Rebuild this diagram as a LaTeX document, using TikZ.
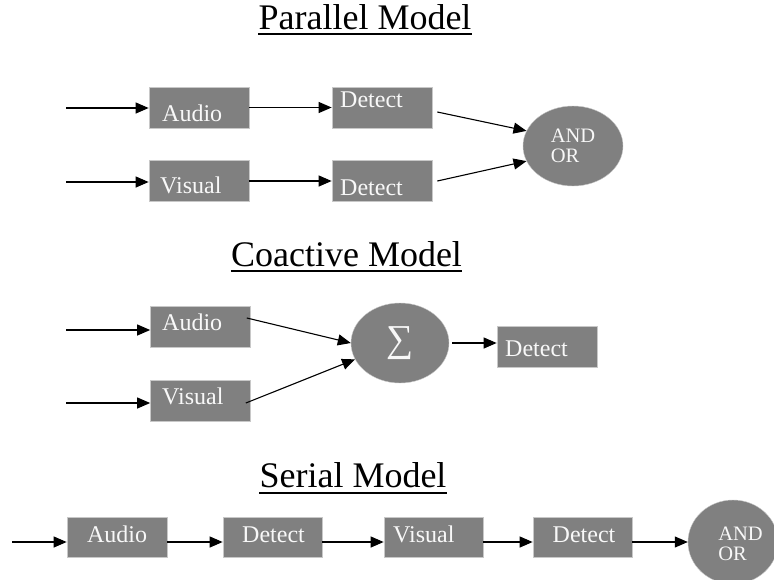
\documentclass[tikz,border=0pt]{standalone}
\usepackage{fontspec}
\setmainfont{Liberation Serif}
\usetikzlibrary{arrows.meta,shapes.geometric,calc}
\definecolor{boxgray}{HTML}{808080}
\definecolor{boxedge}{HTML}{C8C8C8}
\definecolor{txtwhite}{HTML}{F8F8F8}
\begin{document}
\begin{tikzpicture}[x=1pt,y=-1pt,
  blk/.style={rectangle,fill=boxgray,draw=boxedge,line width=0.7pt,inner sep=0pt,minimum width=100pt,minimum height=41pt},
  oval/.style={ellipse,fill=boxgray,draw=boxedge,line width=0.4pt,inner sep=0pt,minimum width=100pt,minimum height=80pt,text=txtwhite,align=left,font=\fontsize{20.5}{20.5}\selectfont},
  ovtxt/.style={inner sep=0pt,text=txtwhite,align=left,font=\fontsize{20.5}{20.5}\selectfont},
  lbl/.style={anchor=base west,inner sep=0pt,text=txtwhite,font=\fontsize{24}{24}\selectfont},
  lblc/.style={lbl,anchor=base},
  ttl/.style={anchor=base,inner sep=0pt,font=\fontsize{36}{40}\selectfont},
  uline/.style={line width=1.8pt},
  arr/.style={line width=1.1pt,-{Triangle[length=13pt,width=11pt]}},
]
\clip (0,0) rectangle (774,579);
\useasboundingbox (0,0) rectangle (774,579);

% ---------- Parallel Model ----------
\node[ttl] (t1) at (365,29) {Parallel Model};
\draw[uline] ([yshift=-5pt]t1.base west) -- ([yshift=-5pt]t1.base east);

\node[blk] (pa) at (199,107.5) {};
\node[blk] (pd1) at (382,107.5) {};
\node[blk] (pv) at (199,181) {};
\node[blk] (pd2) at (382,181) {};
\node[oval] (pand) at (573,146) {AND\\OR};
\node[lbl] (paT) at (162,121) {Audio};
\node[lbl] (pd1T) at (340,107) {Detect};
\node[lbl] (pvT) at (160,193) {Visual};
\node[lbl] (pd2T) at (340,195) {Detect};

\coordinate (pin1) at (66,108);
\coordinate (pin2) at (66,182);
\draw[arr] (pin1) -- (pin1 -| pa.west);
\draw[arr] (pin2) -- (pin2 -| pv.west);
\draw[arr] (pa.east) -- (pd1.west);
\draw[arr] (pv.east) -- (pd2.west);
\draw[arr] ([xshift=5pt,yshift=-4.5pt]pd1.east) -- (pand.162);
\draw[arr] ([xshift=5pt]pd2.east) -- (pand.198);

% ---------- Coactive Model ----------
\node[ttl] (t2) at (346.5,266) {Coactive Model};
\draw[uline] ([yshift=-5pt]t2.base west) -- ([yshift=-5pt]t2.base east);

\node[blk] (ca) at (200.5,326.5) {};
\node[blk] (cv) at (200.5,400.5) {};
\node[oval,minimum width=98pt,font=\fontsize{38}{38}\selectfont] (csum) at (400,343) {∑};
\node[blk] (cd) at (547,346.5) {};
\node[lbl] (caT) at (162,330) {Audio};
\node[lbl] (cvT) at (162,404) {Visual};
\node[lbl] (cdT) at (505,356) {Detect};

\coordinate (cin1) at (66,330);
\coordinate (cin2) at (66,403);
\draw[arr] (cin1) -- (cin1 -| ca.west);
\draw[arr] (cin2) -- (cin2 -| cv.west);
\draw[arr] ([xshift=-4pt,yshift=8.5pt]ca.east) -- (csum.west);
\draw[arr] ([xshift=-5pt,yshift=-2.5pt]cv.east) -- (csum.200);
\draw[arr] ([xshift=3pt]csum.east) -- (csum.east -| cd.west);

% ---------- Serial Model ----------
\node[ttl] (t3) at (353,487) {Serial Model};
\draw[uline] ([yshift=-6pt]t3.base west) -- ([yshift=-6pt]t3.base east);

\node[blk,minimum height=40pt] (sa) at (117,537) {};
\node[blk,minimum height=40pt,minimum width=99pt] (sd1) at (272.5,537) {};
\node[blk,minimum height=40pt,minimum width=99pt] (sv) at (433.5,537) {};
\node[blk,minimum height=40pt,minimum width=99pt] (sd2) at (582.5,537) {};
\node[oval,minimum width=90pt,minimum height=84pt] (send) at (733,542) {};
\node[ovtxt] (sendT) at (740.5,544) {AND\\OR};
\node[lblc] (saT) at (117,542) {Audio};
\node[lblc] (sd1T) at (273.5,542) {Detect};
\node[lbl] (svT) at (393,542) {Visual};
\node[lblc] (sd2T) at (584,542) {Detect};

\coordinate (sin) at (12,542);
\draw[arr] (sin) -- (sin -| sa.west);
\draw[arr] ([yshift=-5pt]sa.east) -- ([yshift=-5pt]sd1.west);
\draw[arr] ([yshift=-5pt]sd1.east) -- ([yshift=-5pt]sv.west);
\draw[arr] ([yshift=-5pt]sv.east) -- ([yshift=-5pt]sd2.west);
\draw[arr] ([yshift=-5pt]sd2.east) -- (send.west);
\end{tikzpicture}
\end{document}
